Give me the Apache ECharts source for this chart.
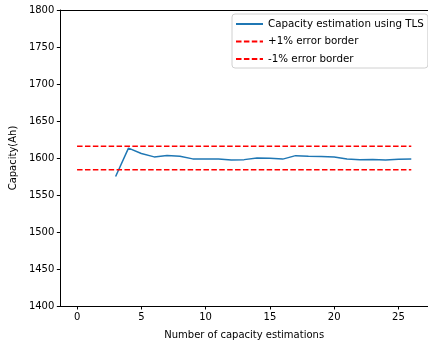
<!DOCTYPE html>
<html>
<head>
<meta charset="utf-8">
<script src="https://cdn.jsdelivr.net/npm/echarts@6/dist/echarts.min.js"></script>
<style>
  html, body { margin: 0; padding: 0; background: #fff; }
  #chart { width: 428px; height: 347px; }
</style>
</head>
<body>
<div id="chart"></div>
<script>
// estimation index and estimated capacity (Ah)
const estIndex = [3, 4, 5, 6, 7, 8, 9, 10, 11, 12, 13, 14, 15, 16, 17, 18, 19, 20, 21, 22, 23, 24, 25, 26];
const estCapacity = [1575, 1613.3, 1606, 1601.5, 1603.3, 1602.4, 1598.8, 1598.6, 1598.8, 1597.4, 1597.8, 1600, 1599.6, 1598.5, 1603.2, 1602.3, 1602, 1601.5, 1598.8, 1597.6, 1598, 1597.2, 1598.3, 1598.6];
// error borders
const borderX = [0, 26];
const upperBorder = [1616, 1616];
const lowerBorder = [1584, 1584];
const xTicks = [0, 5, 10, 15, 20, 25];

const font = 'DejaVu Sans';
const chart = echarts.init(document.getElementById('chart'));

const pairs = (xs, ys) => xs.map((x, i) => [x, ys[i]]);

chart.setOption({
  animation: false,
  textStyle: { fontFamily: font },
  grid: { left: 59, right: 0, top: 10, bottom: 41 },
  legend: {
    orient: 'vertical',
    left: 232, top: 14,
    padding: [5, 4, 4, 3],
    itemWidth: 27, itemHeight: 10, itemGap: 7.5,
    itemStyle: { opacity: 0, borderWidth: 0 },
    borderColor: '#d0d0d0', borderWidth: 1, borderRadius: 3,
    textStyle: { fontFamily: font, fontSize: 10.3, color: '#000' },
    data: ['Capacity estimation using TLS', '+1% error border', '-1% error border']
  },
  xAxis: [
    {
      type: 'value',
      min: -1.3, max: 27.3,
      name: 'Number of capacity estimations',
      nameLocation: 'middle', nameGap: 24,
      nameTextStyle: { fontFamily: font, fontSize: 10, color: '#000' },
      axisLine: { onZero: false, lineStyle: { color: '#000' } },
      axisTick: { show: true, length: 3.5, customValues: xTicks, lineStyle: { color: '#000' } },
      axisLabel: { customValues: xTicks, fontFamily: font, fontSize: 10, color: '#000', margin: 6 },
      splitLine: { show: false }
    },
    {
      // top spine only
      type: 'value', position: 'top',
      min: -1.3, max: 27.3,
      axisLine: { show: true, onZero: false, lineStyle: { color: '#000' } },
      axisTick: { show: false }, axisLabel: { show: false }, splitLine: { show: false }
    }
  ],
  yAxis: {
    type: 'value',
    min: 1400, max: 1800, interval: 50,
    name: 'Capacity(Ah)',
    nameLocation: 'middle', nameGap: 40,
    nameTextStyle: { fontFamily: font, fontSize: 10, color: '#000' },
    axisLine: { show: true, onZero: false, lineStyle: { color: '#000' } },
    axisTick: { show: true, length: 3.5, lineStyle: { color: '#000' } },
    axisLabel: { fontFamily: font, fontSize: 10, color: '#000', margin: 6, formatter: v => String(v) },
    splitLine: { show: false }
  },
  series: [
    {
      name: 'Capacity estimation using TLS',
      type: 'line',
      data: pairs(estIndex, estCapacity),
      symbol: 'none',
      lineStyle: { color: '#1f77b4', width: 1.5 },
      itemStyle: { color: '#1f77b4' }
    },
    {
      name: '+1% error border',
      type: 'line',
      data: pairs(borderX, upperBorder),
      symbol: 'none',
      lineStyle: { color: '#ff0000', width: 1.5, type: [5.5, 2.4] },
      itemStyle: { color: '#ff0000' }
    },
    {
      name: '-1% error border',
      type: 'line',
      data: pairs(borderX, lowerBorder),
      symbol: 'none',
      lineStyle: { color: '#ff0000', width: 1.5, type: [5.5, 2.4] },
      itemStyle: { color: '#ff0000' }
    }
  ]
});
</script>
</body>
</html>
